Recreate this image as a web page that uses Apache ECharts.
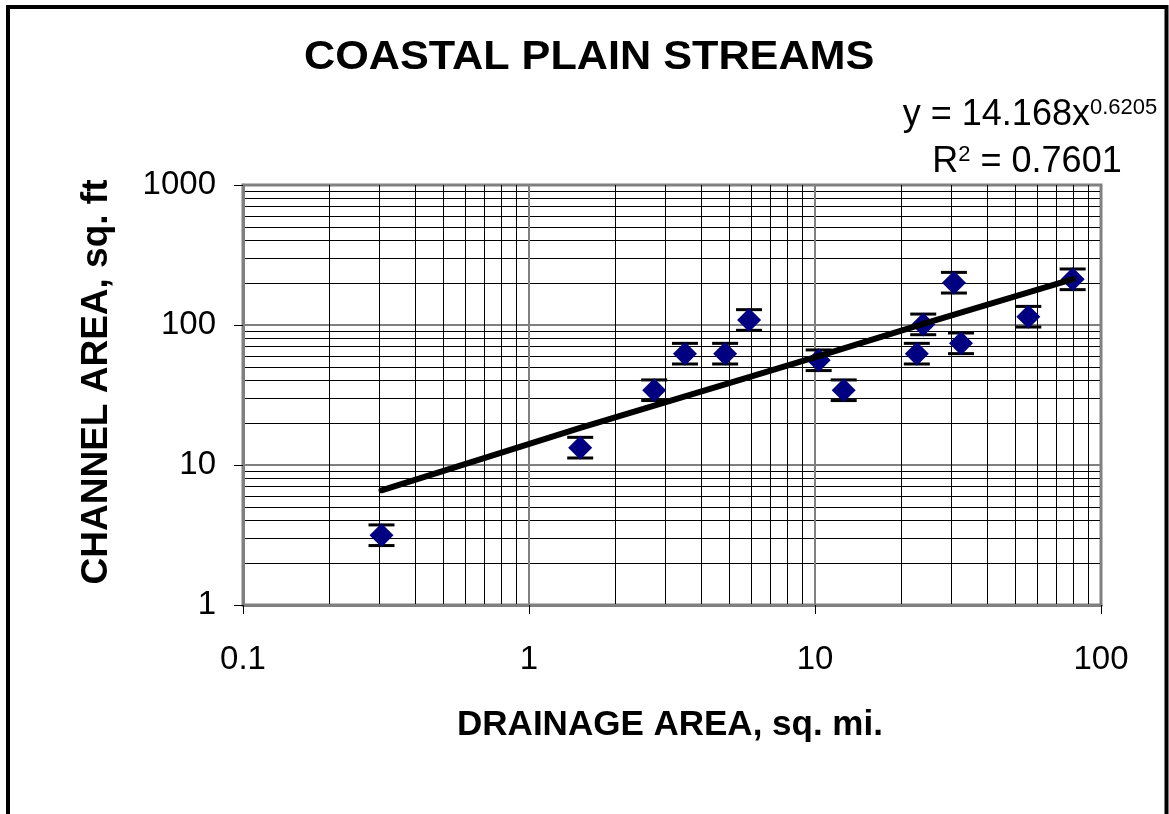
<!DOCTYPE html>
<html><head><meta charset="utf-8">
<script src="https://cdn.jsdelivr.net/npm/echarts@6/dist/echarts.min.js"></script>
<style>html,body{margin:0;padding:0;background:#fff}#c{width:1169px;height:814px}</style>
</head><body><div id="c"></div><script>
// ---- data ----
const drainageArea = [0.305, 1.51, 2.74, 3.51, 4.85, 5.88, 10.3, 12.6, 22.7, 23.9, 30.6, 32.4, 55.7, 79.6];
const channelArea  = [3.15, 13.3, 34.2, 62.4, 62.4, 108.6, 56.0, 34.2, 62.4, 101, 200.5, 74.0, 114.6, 212];
const errorBarFactor = 1.185; // error bar ends: value*f and value/f
const trendX = [0.305, 1.51, 2.74, 5.88, 10.3, 23.9, 79.6];
const trendY = [6.6, 18.4, 26.6, 42.5, 60, 102, 213];
const xTickLabels = ['0.1', '1', '10', '100'];
const yTickLabels = ['1', '10', '100', '1000'];
const titleText = 'COASTAL PLAIN STREAMS';
const xAxisTitle = 'DRAINAGE AREA, sq. mi.';
const yAxisTitle = 'CHANNEL AREA, sq. ft';
const eqCoef = '14.168', eqExp = '0.6205', rSquared = '0.7601';

const FONT = '"Liberation Sans", Arial, sans-serif';
const chart = echarts.init(document.getElementById('c'), null, {renderer: 'canvas'});

const points = drainageArea.map((x, i) => [x, channelArea[i]]);
const trend = trendX.map((x, i) => [x, trendY[i]]);

const axisCommon = {
  type: 'log', logBase: 10,
  axisLine: {show: true, onZero: false, lineStyle: {color: '#808080', width: 3}},
  axisTick: {show: true, length: 9, lineStyle: {color: '#000', width: 1}},
  splitLine: {show: true, lineStyle: {color: '#808080', width: 2}},
  minorTick: {show: false, splitNumber: 9},
  minorSplitLine: {show: true, lineStyle: {color: '#000', width: 1}}
};

chart.setOption({
  animation: false,
  backgroundColor: '#fff',
  grid: {left: 243, top: 185, width: 858, height: 420, show: true, borderColor: '#808080', borderWidth: 3, backgroundColor: 'transparent'},
  xAxis: Object.assign({}, axisCommon, {
    min: 0.1, max: 100,
    axisLabel: {fontFamily: FONT, fontSize: 33, color: '#000', margin: 38,
      formatter: (v, i) => xTickLabels[i]}
  }),
  yAxis: Object.assign({}, axisCommon, {
    min: 1, max: 1000,
    axisLabel: {fontFamily: FONT, fontSize: 33, color: '#000', margin: 27,
      formatter: (v, i) => yTickLabels[i]}
  }),
  series: [
    {
      type: 'custom', z: 2, silent: true,
      encode: {x: 0, y: 1},
      data: points,
      renderItem(params, api) {
        const x = api.value(0), y = api.value(1);
        const top = api.coord([x, y * errorBarFactor]);
        const bot = api.coord([x, y / errorBarFactor]);
        const hw = 13;
        const st = {stroke: '#000', lineWidth: 3};
        return {type: 'group', children: [
          {type: 'line', shape: {x1: top[0], y1: top[1], x2: bot[0], y2: bot[1]}, style: {stroke: '#000', lineWidth: 1.5}},
          {type: 'line', shape: {x1: top[0] - hw, y1: top[1], x2: top[0] + hw, y2: top[1]}, style: st},
          {type: 'line', shape: {x1: bot[0] - hw, y1: bot[1], x2: bot[0] + hw, y2: bot[1]}, style: st}
        ]};
      }
    },
    {
      type: 'scatter', z: 3, data: points,
      symbol: 'diamond', symbolSize: 24,
      itemStyle: {color: '#000080', opacity: 1}
    },
    {
      type: 'line', z: 4, data: trend, showSymbol: false, symbol: 'none',
      lineStyle: {color: '#000', width: 6, cap: 'round'}
    }
  ],
  graphic: [
    {type: 'rect', z: 100, shape: {x: 8, y: 7, width: 1158.5, height: 830},
      style: {fill: 'none', stroke: '#000', lineWidth: 4}},
    {type: 'text', x: 304, y: 58, scaleX: 1.08, z: 100,
      style: {text: titleText, font: 'bold 40px ' + FONT, fill: '#000',
        textAlign: 'left', align: 'left', textVerticalAlign: 'middle', verticalAlign: 'middle'}},
    {type: 'text', x: 670, y: 725, z: 100,
      style: {text: xAxisTitle, font: 'bold 35px ' + FONT, fill: '#000',
        textAlign: 'center', align: 'center', textVerticalAlign: 'middle', verticalAlign: 'middle'}},
    {type: 'text', x: 97, y: 382, rotation: Math.PI / 2, z: 100,
      style: {text: yAxisTitle, font: 'bold 37px ' + FONT, fill: '#000',
        textAlign: 'center', align: 'center', textVerticalAlign: 'middle', verticalAlign: 'middle'}},
    {type: 'text', x: 1030, y: 115, z: 100,
      style: {text: '{m|y = ' + eqCoef + 'x}{s|' + eqExp + '}', fill: '#000',
        textAlign: 'center', align: 'center', textVerticalAlign: 'middle', verticalAlign: 'middle',
        rich: {
          m: {fontFamily: FONT, fontSize: 36, lineHeight: 36, fill: '#000', color: '#000'},
          s: {fontFamily: FONT, fontSize: 22, lineHeight: 20, verticalAlign: 'top', fill: '#000', color: '#000'}
        }}},
    {type: 'text', x: 1027, y: 162, z: 100,
      style: {text: '{m|R}{s|2}{m| = ' + rSquared + '}', fill: '#000',
        textAlign: 'center', align: 'center', textVerticalAlign: 'middle', verticalAlign: 'middle',
        rich: {
          m: {fontFamily: FONT, fontSize: 36, lineHeight: 36, fill: '#000', color: '#000'},
          s: {fontFamily: FONT, fontSize: 22, lineHeight: 20, verticalAlign: 'top', fill: '#000', color: '#000'}
        }}}
  ]
});
</script></body></html>
